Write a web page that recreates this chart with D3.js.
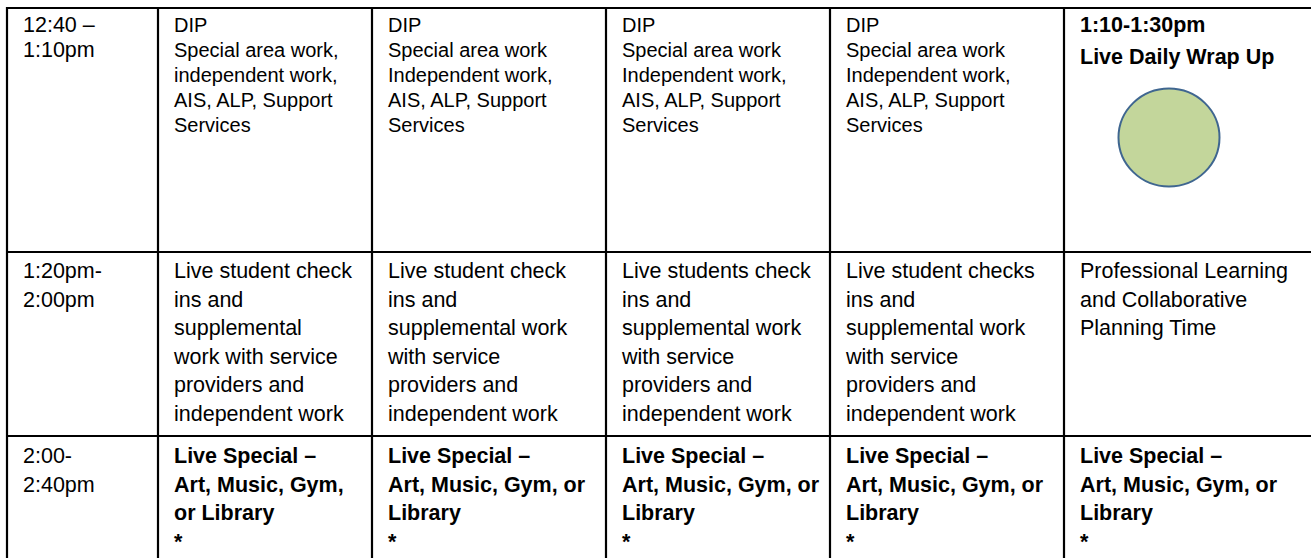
<!DOCTYPE html>
<html>
<head>
<meta charset="utf-8">
<script src="https://cdn.jsdelivr.net/npm/d3@7"></script>
<style>
  html, body { margin: 0; padding: 0; background: #fff; }
  svg { display: block; }
  text { font-family: "Liberation Sans", Arial, sans-serif; fill: #000; }
</style>
</head>
<body>
<div id="chart"></div>
<script>
// ---- data ----
const columns = ["Time", "Mon", "Tue", "Wed", "Thu", "Fri"];
const timeSlots = [
  ["12:40 –", "1:10pm"],
  ["1:20pm-", "2:00pm"],
  ["2:00-", "2:40pm"]
];
const row1Cells = [
  ["DIP", "Special area work,", "independent work,", "AIS, ALP, Support", "Services"],
  ["DIP", "Special area work", "Independent work,", "AIS, ALP, Support", "Services"],
  ["DIP", "Special area work", "Independent work,", "AIS, ALP, Support", "Services"],
  ["DIP", "Special area work", "Independent work,", "AIS, ALP, Support", "Services"],
  ["1:10-1:30pm", "Live Daily Wrap Up"]
];
const row2Cells = [
  ["Live student check", "ins and", "supplemental", "work with service", "providers and", "independent work"],
  ["Live student check", "ins and", "supplemental work", "with service", "providers and", "independent work"],
  ["Live students check", "ins and", "supplemental work", "with service", "providers and", "independent work"],
  ["Live student checks", "ins and", "supplemental work", "with service", "providers and", "independent work"],
  ["Professional Learning", "and Collaborative", "Planning Time"]
];
const row3Cells = [
  ["Live Special –", "Art, Music, Gym,", "or Library", "*"],
  ["Live Special –", "Art, Music, Gym, or", "Library", "*"],
  ["Live Special –", "Art, Music, Gym, or", "Library", "*"],
  ["Live Special –", "Art, Music, Gym, or", "Library", "*"],
  ["Live Special –", "Art, Music, Gym, or", "Library", "*"]
];
const rowsData = [row1Cells, row2Cells, row3Cells];
const markerCells = [{ row: 0, col: 5 }];

// ---- layout ----
const W = 1311, H = 558;
const colEdges = [7, 158, 372, 606, 830, 1064, 1320];
const rowEdges = [8, 252, 436, 600];

const x = d3.scaleOrdinal().domain(columns).range(colEdges.slice(0, -1));
const xEnd = d3.scaleOrdinal().domain(columns).range(colEdges.slice(1));
const y = d3.scaleOrdinal().domain([0, 1, 2]).range(rowEdges.slice(0, -1));

const svg = d3.select("#chart").append("svg").attr("width", W).attr("height", H);

// cell styles by row
const rowStyle = [
  { size: 20, lh: 25, base: 32, weight: "normal" },
  { size: 21.5, lh: 28.6, base: 278, weight: "normal" },
  { size: 21.5, lh: 28.6, base: 463, weight: "bold" }
];

function drawLines(g, lines, xPos, baseY, size, lh, weight) {
  const t = g.append("text")
    .attr("x", xPos).attr("y", baseY)
    .style("font-size", size + "px")
    .style("font-weight", weight);
  t.selectAll("tspan").data(lines).join("tspan")
    .attr("x", xPos)
    .attr("y", (d, i) => baseY + i * lh)
    .text(d => d);
}

const g = svg.append("g");

// time column
timeSlots.forEach((lines, r) => {
  const st = rowStyle[r];
  drawLines(g, lines, x("Time") + 16, y(r) + (st.base - rowEdges[r]), 21.5, r === 0 ? 25 : st.lh, "normal");
});

// day cells
rowsData.forEach((row, r) => {
  const st = rowStyle[r];
  row.forEach((lines, c) => {
    const col = columns[c + 1];
    let size = st.size, lh = st.lh, weight = st.weight;
    if (r === 0 && c === 4) { size = 21.5; lh = 32; weight = "bold"; }
    drawLines(g, lines, x(col) + 16, st.base, size, lh, weight);
  });
});

// circle marker in Friday first row
markerCells.forEach(m => {
  const col = columns[m.col];
  const cx = x(col) + 105;
  svg.append("ellipse")
    .attr("cx", cx).attr("cy", y(m.row) + 129.5)
    .attr("rx", 50.5).attr("ry", 49)
    .attr("fill", "#c3d69b")
    .attr("stroke", "#3f6690")
    .attr("stroke-width", 2);
});

// grid lines
const grid = svg.append("g").attr("stroke", "#000").attr("stroke-width", 2.2);
grid.selectAll("line.h").data(rowEdges.slice(0, 3)).join("line")
  .attr("class", "h")
  .attr("x1", colEdges[0] - 1).attr("x2", W)
  .attr("y1", d => d).attr("y2", d => d);
grid.selectAll("line.v").data(colEdges.slice(0, 6)).join("line")
  .attr("class", "v")
  .attr("x1", d => d).attr("x2", d => d)
  .attr("y1", rowEdges[0] - 1).attr("y2", H);
</script>
</body>
</html>
